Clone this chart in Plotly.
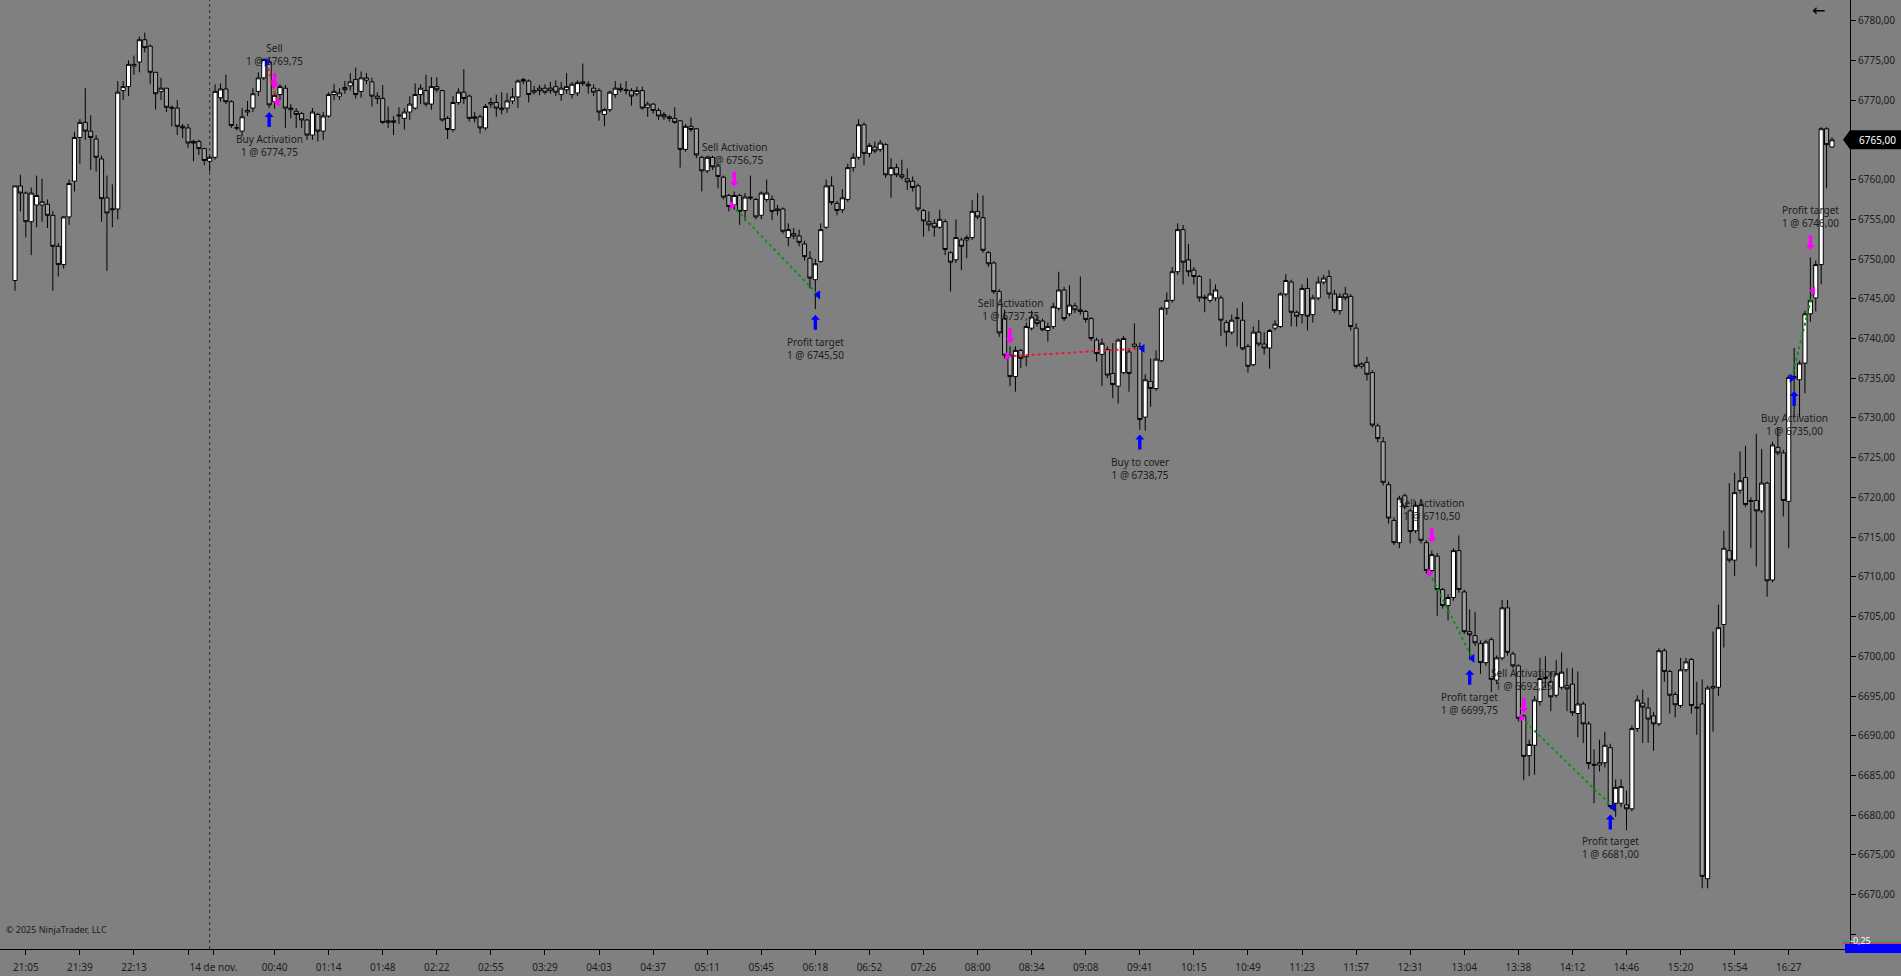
import plotly.graph_objects as go

# ---------------- data ----------------
opens = [
    6747.3, 6759.2, 6758.3, 6754.7, 6756.8, 6756.8, 6756.9, 6755.5, 6751.6, 6749.3,
    6755.3, 6759.8, 6765.3, 6767.2, 6766.1, 6765.1, 6762.6, 6757.7, 6756.2, 6756.3,
    6771.2, 6771.7, 6774.3, 6774.8, 6777.6, 6776.8, 6773.5, 6771.1, 6771.5, 6769.1,
    6769.0, 6766.7, 6766.5, 6764.8, 6764.8, 6763.9, 6762.3, 6762.8, 6770.3, 6771.4,
    6769.8, 6766.5, 6766.1, 6768.5, 6769.0, 6771.1, 6772.8, 6774.8, 6769.8, 6770.7,
    6771.5, 6768.8, 6768.6, 6768.3, 6767.5, 6765.6, 6768.2, 6766.1, 6768.0, 6770.7,
    6770.5, 6771.6, 6771.8, 6772.6, 6771.1, 6772.5, 6772.3, 6770.2, 6770.2, 6767.2,
    6767.2, 6768.0, 6767.7, 6768.5, 6769.0, 6770.7, 6771.2, 6769.5, 6771.7, 6771.2,
    6767.7, 6766.3, 6769.7, 6771.0, 6770.5, 6767.7, 6767.9, 6766.5, 6769.5, 6769.7,
    6768.8, 6769.0, 6769.9, 6770.4, 6772.6, 6772.4, 6771.0, 6771.2, 6771.5, 6771.2,
    6771.7, 6770.7, 6771.3, 6770.7, 6770.9, 6772.3, 6772.0, 6771.5, 6771.2, 6768.2,
    6768.8, 6770.7, 6771.5, 6771.3, 6771.2, 6770.8, 6771.2, 6769.1, 6769.5, 6768.7,
    6768.2, 6767.9, 6767.7, 6767.4, 6763.8, 6766.7, 6766.4, 6762.8, 6761.1, 6762.8,
    6761.7, 6760.3, 6758.0, 6756.8, 6758.0, 6756.1, 6757.8, 6757.5, 6755.5, 6757.5,
    6757.5, 6756.3, 6756.3, 6752.7, 6753.2, 6752.9, 6751.9, 6750.1, 6747.4, 6749.7,
    6754.0, 6759.2, 6757.0, 6756.2, 6757.5, 6761.5, 6762.8, 6766.9, 6763.3, 6764.1,
    6763.8, 6764.4, 6760.6, 6761.5, 6760.6, 6760.1, 6759.8, 6759.2, 6756.1, 6754.7,
    6754.5, 6754.0, 6754.7, 6750.8, 6749.9, 6752.4, 6752.4, 6752.7, 6756.0, 6755.2,
    6750.8, 6749.5, 6745.9, 6742.5, 6737.9, 6735.2, 6738.5, 6737.7, 6741.3, 6742.3,
    6742.2, 6741.0, 6741.5, 6743.8, 6746.1, 6743.1, 6744.1, 6743.6, 6743.4, 6742.5,
    6739.8, 6738.0, 6738.6, 6735.6, 6734.0, 6735.7, 6738.3, 6739.0, 6739.0, 6730.1,
    6734.6, 6733.7, 6737.2, 6743.8, 6744.8, 6748.4, 6753.7, 6749.9, 6748.6, 6747.8,
    6745.2, 6744.8, 6745.1, 6745.1, 6742.0, 6740.8, 6742.5, 6742.3, 6739.0, 6736.7,
    6740.8, 6739.3, 6738.8, 6741.3, 6741.5, 6745.6, 6747.1, 6743.3, 6743.0, 6746.3,
    6743.0, 6745.1, 6747.1, 6747.8, 6745.6, 6743.5, 6745.6, 6745.3, 6741.3, 6736.5,
    6737.0, 6735.7, 6729.0, 6727.0, 6721.6, 6717.1, 6714.3, 6720.2, 6718.3, 6715.8,
    6719.0, 6714.3, 6710.8, 6712.6, 6708.4, 6706.4, 6707.4, 6713.3, 6708.1, 6703.1,
    6702.6, 6701.6, 6699.2, 6702.1, 6697.0, 6699.8, 6706.1, 6700.3, 6698.8, 6692.5,
    6687.5, 6688.8, 6694.3, 6697.2, 6696.8, 6695.1, 6696.1, 6696.3, 6696.5, 6692.8,
    6694.0, 6691.5, 6686.4, 6686.3, 6686.6, 6688.5, 6681.5, 6681.5, 6681.3, 6680.8,
    6690.9, 6694.1, 6693.5, 6692.5, 6691.5, 6700.7, 6698.1, 6695.2, 6693.8, 6698.3,
    6699.6, 6693.6, 6694.0, 6672.0, 6696.0, 6696.1, 6704.0, 6713.3, 6712.1, 6720.9,
    6722.5, 6719.5, 6719.6, 6718.3, 6721.8, 6709.6, 6726.3, 6725.6, 6719.5, 6735.0,
    6734.8, 6736.9, 6743.1, 6745.1, 6749.3, 6766.4, 6764.1,
]
highs = [
    6759.2, 6760.6, 6758.5, 6759.0, 6760.5, 6760.1, 6757.5, 6756.0, 6752.0, 6755.4,
    6760.0, 6766.0, 6767.6, 6771.5, 6768.1, 6765.6, 6763.0, 6760.5, 6759.4, 6772.4,
    6772.4, 6775.0, 6775.6, 6778.0, 6778.5, 6777.0, 6773.5, 6772.8, 6771.5, 6769.3,
    6770.0, 6767.0, 6767.0, 6765.0, 6765.0, 6764.0, 6763.0, 6772.0, 6772.1, 6773.2,
    6770.0, 6767.0, 6769.0, 6769.9, 6771.5, 6773.5, 6775.2, 6775.3, 6771.0, 6772.0,
    6771.9, 6769.5, 6769.0, 6768.5, 6767.6, 6769.0, 6768.4, 6768.5, 6771.0, 6772.0,
    6771.5, 6772.4, 6773.4, 6774.1, 6773.6, 6773.4, 6772.8, 6771.0, 6771.9, 6769.2,
    6768.0, 6769.1, 6769.0, 6770.5, 6772.1, 6772.0, 6773.2, 6772.9, 6772.9, 6771.3,
    6768.0, 6770.5, 6771.5, 6773.9, 6770.7, 6768.5, 6768.2, 6769.5, 6770.3, 6770.7,
    6771.0, 6770.9, 6771.5, 6772.6, 6772.8, 6772.6, 6771.8, 6771.9, 6772.0, 6772.3,
    6772.5, 6772.3, 6773.4, 6772.3, 6772.5, 6774.6, 6772.4, 6772.0, 6771.5, 6769.0,
    6771.2, 6772.4, 6772.1, 6772.4, 6771.5, 6771.7, 6771.7, 6769.8, 6769.6, 6769.0,
    6768.5, 6768.1, 6769.1, 6767.5, 6767.0, 6767.8, 6766.5, 6763.0, 6763.0, 6763.0,
    6762.0, 6760.5, 6758.2, 6758.5, 6758.2, 6758.3, 6760.5, 6757.7, 6758.5, 6760.0,
    6758.0, 6756.8, 6756.5, 6754.5, 6753.9, 6753.7, 6752.3, 6751.0, 6750.0, 6754.5,
    6760.0, 6760.4, 6757.3, 6758.8, 6762.0, 6763.3, 6767.6, 6767.2, 6764.6, 6764.8,
    6765.0, 6764.6, 6762.7, 6762.0, 6762.5, 6761.4, 6760.4, 6759.5, 6756.3, 6756.0,
    6755.0, 6756.2, 6755.0, 6751.0, 6755.0, 6752.7, 6753.0, 6757.4, 6758.3, 6758.0,
    6751.0, 6749.7, 6746.2, 6743.6, 6739.0, 6739.0, 6738.7, 6742.0, 6743.5, 6743.0,
    6742.5, 6742.0, 6744.5, 6748.4, 6746.5, 6746.7, 6744.5, 6747.8, 6743.6, 6742.7,
    6740.1, 6740.0, 6739.0, 6739.4, 6740.0, 6740.3, 6738.8, 6741.9, 6739.5, 6735.5,
    6737.5, 6738.5, 6744.0, 6745.8, 6749.0, 6754.5, 6754.3, 6751.9, 6749.0, 6748.0,
    6745.5, 6747.5, 6746.8, 6745.4, 6742.3, 6743.0, 6743.8, 6744.6, 6739.3, 6741.5,
    6742.3, 6740.8, 6741.2, 6742.3, 6745.8, 6748.1, 6747.4, 6743.5, 6746.8, 6747.6,
    6745.5, 6747.8, 6748.0, 6748.6, 6746.1, 6745.7, 6746.5, 6745.6, 6741.9, 6737.0,
    6737.7, 6736.0, 6729.3, 6727.6, 6722.0, 6717.5, 6720.2, 6720.5, 6718.6, 6719.5,
    6719.8, 6714.6, 6713.3, 6713.0, 6708.6, 6707.8, 6713.6, 6715.2, 6708.4, 6705.9,
    6705.6, 6702.0, 6702.1, 6702.4, 6700.1, 6707.1, 6707.1, 6700.6, 6699.0, 6692.7,
    6689.5, 6695.0, 6699.8, 6700.0, 6698.1, 6699.5, 6700.5, 6698.5, 6698.5, 6698.1,
    6694.3, 6691.8, 6688.3, 6689.5, 6690.5, 6689.0, 6684.5, 6684.5, 6683.1, 6691.3,
    6695.1, 6695.8, 6694.8, 6693.0, 6701.0, 6701.0, 6698.3, 6695.5, 6699.8, 6699.8,
    6699.8, 6696.8, 6697.1, 6696.3, 6703.1, 6706.5, 6715.8, 6721.8, 6723.1, 6725.8,
    6726.5, 6720.0, 6728.0, 6726.1, 6722.0, 6727.0, 6728.8, 6726.0, 6735.4, 6738.8,
    6737.2, 6743.5, 6750.2, 6749.8, 6766.6, 6766.6, 6765.3,
]
lows = [
    6746.0, 6756.0, 6752.7, 6750.5, 6754.0, 6754.7, 6753.9, 6746.0, 6747.8, 6748.8,
    6754.3, 6758.5, 6762.0, 6765.0, 6761.2, 6761.0, 6754.7, 6748.5, 6754.0, 6755.0,
    6770.0, 6770.5, 6773.2, 6773.5, 6776.0, 6772.0, 6768.8, 6770.0, 6768.5, 6766.7,
    6765.6, 6765.2, 6764.0, 6762.3, 6763.1, 6761.8, 6761.0, 6762.5, 6769.8, 6769.5,
    6766.5, 6766.2, 6765.5, 6768.0, 6768.5, 6770.5, 6772.5, 6769.0, 6768.9, 6770.0,
    6766.5, 6767.7, 6766.5, 6766.5, 6765.0, 6765.0, 6764.8, 6765.0, 6767.8, 6770.0,
    6770.0, 6770.8, 6771.2, 6770.2, 6770.3, 6772.0, 6769.2, 6769.5, 6767.0, 6766.5,
    6765.6, 6767.0, 6766.3, 6767.5, 6768.8, 6769.5, 6769.2, 6768.8, 6771.0, 6767.3,
    6765.1, 6766.0, 6769.4, 6769.5, 6767.3, 6767.2, 6765.8, 6766.2, 6769.0, 6767.9,
    6768.2, 6768.4, 6769.5, 6769.0, 6772.0, 6769.7, 6770.7, 6770.6, 6770.7, 6770.8,
    6770.5, 6769.9, 6770.8, 6770.2, 6770.5, 6771.8, 6770.8, 6770.5, 6767.4, 6766.7,
    6768.5, 6770.3, 6771.0, 6770.7, 6769.3, 6770.5, 6768.8, 6767.9, 6768.3, 6767.5,
    6767.5, 6767.3, 6767.0, 6761.5, 6763.5, 6766.0, 6762.7, 6758.5, 6760.8, 6761.2,
    6758.9, 6757.5, 6756.0, 6756.2, 6754.3, 6754.8, 6757.4, 6755.0, 6755.0, 6757.2,
    6754.9, 6755.5, 6753.2, 6751.6, 6752.5, 6751.6, 6749.8, 6746.3, 6743.7, 6749.5,
    6753.8, 6756.8, 6755.5, 6755.8, 6757.2, 6761.0, 6762.5, 6761.8, 6762.8, 6763.3,
    6763.5, 6760.2, 6757.7, 6760.3, 6760.0, 6758.7, 6758.5, 6756.0, 6752.8, 6753.5,
    6752.8, 6753.8, 6750.5, 6745.9, 6749.5, 6748.6, 6750.1, 6752.4, 6755.0, 6750.8,
    6749.0, 6745.6, 6740.2, 6737.5, 6734.0, 6733.3, 6736.3, 6736.5, 6741.0, 6741.5,
    6740.9, 6739.6, 6741.2, 6743.5, 6742.2, 6742.8, 6743.2, 6743.0, 6742.0, 6739.7,
    6737.1, 6734.0, 6735.0, 6732.5, 6731.8, 6735.5, 6733.3, 6738.8, 6728.5, 6728.4,
    6731.4, 6733.4, 6737.0, 6743.0, 6744.5, 6748.0, 6746.8, 6747.8, 6746.8, 6744.6,
    6743.3, 6744.5, 6744.7, 6740.3, 6739.0, 6740.5, 6739.0, 6738.5, 6735.7, 6736.5,
    6739.0, 6738.0, 6736.2, 6741.0, 6741.3, 6745.3, 6741.5, 6741.5, 6741.9, 6741.0,
    6742.0, 6744.8, 6746.8, 6745.0, 6743.2, 6743.0, 6744.8, 6741.0, 6736.2, 6736.2,
    6734.7, 6728.8, 6726.9, 6721.5, 6716.7, 6714.0, 6713.6, 6718.5, 6714.2, 6715.5,
    6714.2, 6710.4, 6710.5, 6705.1, 6706.0, 6704.5, 6707.0, 6708.0, 6702.8, 6699.6,
    6701.3, 6697.8, 6698.8, 6695.5, 6696.5, 6699.5, 6700.1, 6698.5, 6691.8, 6684.4,
    6684.9, 6685.1, 6693.8, 6696.0, 6693.1, 6694.8, 6695.8, 6693.1, 6692.5, 6689.8,
    6689.1, 6685.8, 6681.5, 6685.5, 6686.0, 6680.8, 6679.8, 6681.0, 6678.1, 6680.5,
    6690.5, 6689.1, 6689.1, 6688.1, 6691.2, 6696.8, 6692.8, 6692.3, 6693.5, 6698.0,
    6692.8, 6690.1, 6670.8, 6670.8, 6690.5, 6695.0, 6701.1, 6711.8, 6710.1, 6720.5,
    6718.8, 6713.6, 6711.3, 6718.0, 6707.5, 6709.3, 6725.3, 6717.6, 6713.6, 6730.1,
    6730.1, 6733.1, 6742.1, 6743.4, 6746.8, 6758.9, 6764.0,
]
closes = [
    6759.2, 6758.3, 6754.7, 6758.3, 6758.0, 6757.2, 6755.5, 6751.6, 6749.3, 6755.3,
    6759.5, 6765.3, 6767.2, 6766.1, 6765.3, 6762.8, 6757.6, 6755.8, 6756.3, 6771.0,
    6771.7, 6774.5, 6774.5, 6777.6, 6776.6, 6773.5, 6770.8, 6771.5, 6769.1, 6769.0,
    6766.7, 6766.5, 6764.6, 6764.6, 6763.9, 6762.4, 6762.8, 6771.1, 6771.4, 6769.8,
    6766.8, 6766.5, 6767.9, 6768.7, 6770.8, 6772.8, 6775.1, 6769.4, 6770.6, 6771.7,
    6769.0, 6769.0, 6768.2, 6767.5, 6765.6, 6768.5, 6766.1, 6768.0, 6770.7, 6771.1,
    6770.9, 6771.3, 6772.3, 6770.7, 6772.8, 6772.8, 6770.5, 6770.5, 6767.2, 6767.4,
    6767.4, 6768.1, 6768.5, 6769.5, 6770.7, 6771.5, 6769.5, 6771.7, 6771.3, 6767.5,
    6766.3, 6769.7, 6771.0, 6770.2, 6767.7, 6767.9, 6766.5, 6769.2, 6769.7, 6769.0,
    6769.0, 6769.9, 6770.4, 6772.4, 6772.4, 6770.7, 6771.2, 6771.5, 6771.0, 6771.5,
    6771.0, 6771.5, 6771.7, 6772.0, 6772.2, 6772.1, 6771.8, 6771.0, 6768.5, 6768.8,
    6771.0, 6771.5, 6771.3, 6771.2, 6770.5, 6771.2, 6769.0, 6769.5, 6768.7, 6768.0,
    6767.9, 6767.7, 6767.2, 6763.8, 6766.7, 6766.3, 6763.1, 6761.1, 6762.8, 6761.6,
    6760.4, 6757.8, 6756.6, 6758.0, 6756.0, 6757.8, 6757.7, 6755.3, 6758.3, 6758.3,
    6756.0, 6756.1, 6753.5, 6753.7, 6752.9, 6752.1, 6750.3, 6747.6, 6749.4, 6753.7,
    6759.2, 6757.1, 6756.1, 6757.7, 6761.5, 6762.8, 6766.9, 6763.3, 6764.3, 6763.6,
    6764.6, 6760.6, 6761.5, 6760.6, 6760.3, 6759.7, 6759.0, 6756.3, 6754.8, 6754.3,
    6754.0, 6755.0, 6751.2, 6749.6, 6752.7, 6751.6, 6752.7, 6756.0, 6755.3, 6751.1,
    6749.4, 6745.9, 6740.7, 6737.9, 6735.2, 6738.5, 6737.5, 6741.5, 6742.7, 6741.9,
    6741.1, 6741.5, 6744.0, 6746.1, 6742.5, 6744.2, 6743.6, 6743.4, 6742.4, 6740.0,
    6738.1, 6739.4, 6735.4, 6734.2, 6739.8, 6740.0, 6735.6, 6739.3, 6729.8, 6734.8,
    6733.7, 6737.4, 6743.8, 6744.8, 6748.4, 6753.7, 6749.6, 6748.4, 6747.8, 6745.1,
    6745.1, 6745.6, 6746.1, 6742.3, 6740.8, 6742.3, 6742.6, 6738.7, 6736.5, 6740.8,
    6739.3, 6738.8, 6741.0, 6741.8, 6745.6, 6747.3, 6743.3, 6742.8, 6746.3, 6742.8,
    6745.1, 6747.1, 6747.6, 6745.6, 6743.5, 6745.3, 6745.1, 6741.5, 6736.5, 6736.8,
    6735.5, 6729.1, 6727.4, 6721.9, 6717.4, 6714.3, 6719.9, 6718.8, 6715.7, 6719.0,
    6714.6, 6710.8, 6712.8, 6708.4, 6706.4, 6707.4, 6713.3, 6708.4, 6703.1, 6702.7,
    6701.7, 6699.2, 6701.8, 6697.1, 6699.8, 6706.1, 6700.5, 6698.8, 6692.2, 6687.4,
    6688.9, 6694.5, 6697.2, 6697.3, 6694.9, 6697.8, 6698.0, 6695.9, 6692.9, 6694.0,
    6691.5, 6686.5, 6686.3, 6686.6, 6688.8, 6681.1, 6683.5, 6683.6, 6680.8, 6690.9,
    6694.5, 6693.6, 6692.1, 6691.5, 6700.7, 6698.1, 6695.1, 6693.9, 6698.3, 6699.3,
    6693.8, 6693.5, 6672.3, 6696.0, 6696.2, 6703.6, 6713.6, 6712.1, 6720.6, 6722.1,
    6719.1, 6719.6, 6718.3, 6721.8, 6709.5, 6726.6, 6725.6, 6719.6, 6735.1, 6735.2,
    6736.9, 6743.1, 6744.8, 6749.3, 6766.4, 6764.4, 6765.0,
]

# time axis labels (bar index where each label sits)
time_tick_bars = [2, 12, 22, 32, 36.7, 48, 58, 68, 78, 88, 98, 108, 118, 128, 138,
                  148, 158, 168, 178, 188, 198, 208, 218, 228, 238, 248, 258, 268,
                  278, 288, 298, 308, 318, 328]
time_tick_labels = ["21:05", "21:39", "22:13", "", "14 de nov.", "00:40", "01:14",
                    "01:48", "02:22", "02:55", "03:29", "04:03", "04:37", "05:11",
                    "05:45", "06:18", "06:52", "07:26", "08:00", "08:34", "09:08",
                    "09:41", "10:15", "10:49", "11:23", "11:57", "12:31", "13:04",
                    "13:38", "14:12", "14:46", "15:20", "15:54", "16:27"]
session_break_bar = 36

price_ticks = [6665, 6670, 6675, 6680, 6685, 6690, 6695, 6700, 6705, 6710, 6715,
               6720, 6725, 6730, 6735, 6740, 6745, 6750, 6755, 6760, 6765, 6770,
               6775, 6780]
price_tick_labels = ["", "6670,00", "6675,00", "6680,00", "6685,00", "6690,00",
                     "6695,00", "6700,00", "6705,00", "6710,00", "6715,00",
                     "6720,00", "6725,00", "6730,00", "6735,00", "6740,00",
                     "6745,00", "6750,00", "6755,00", "6760,00", "", "6770,00",
                     "6775,00", "6780,00"]

# strategy trades
entry_bars = [47, 133, 184, 262, 279, 329]
entry_prices = [6774.75, 6756.75, 6737.75, 6710.50, 6692.25, 6735.00]
entry_sides = ["buy", "sell", "sell", "sell", "sell", "buy"]
entry_names = ["Buy Activation", "Sell Activation", "Sell Activation",
               "Sell Activation", "Sell Activation", "Buy Activation"]
entry_arrow_prices = [6768.5, 6759.1, 6739.4, 6714.3, 6692.9, 6733.4]

exit_bars = [48, 148, 208, 269, 295, 332]
exit_prices = [6769.75, 6745.50, 6738.75, 6699.75, 6681.00, 6746.00]
exit_names = ["Sell", "Profit target", "Buy to cover", "Profit target",
              "Profit target", "Profit target"]
exit_arrow_prices = [6771.5, 6743.0, 6727.9, 6698.3, 6680.1, 6751.1]

indicator_value = "-0,25"

# ---------------- layout constants ----------------
FIG_W, FIG_H = 1901, 976
PLOT_W, PLOT_H = 1850, 949
Y_MIN, Y_MAX = 6663.16, 6782.6
X_MIN, X_MAX = -2.774, 339.33
BG = "#808080"
BLUE = "#0000ff"
MAGENTA = "#ff00ff"
TEXT = "#1c1c1c"
FONT = "Noto Sans"


def fmt(p):
    return f"{p:.2f}".replace(".", ",")


def py(p):
    return (p - Y_MIN) / (Y_MAX - Y_MIN)


fig = go.Figure()

fig.add_trace(go.Candlestick(
    x=list(range(len(opens))),
    open=opens,
    high=[max(h, o, c) for h, o, c in zip(highs, opens, closes)],
    low=[min(l, o, c) for l, o, c in zip(lows, opens, closes)],
    close=closes,
    increasing=dict(line=dict(color="black", width=1), fillcolor="white"),
    decreasing=dict(line=dict(color="black", width=1), fillcolor="#9e9e9e"),
    whiskerwidth=0,
    hoverinfo="skip",
    showlegend=False,
))

# trade connection lines and execution triangles
for i in range(len(entry_bars)):
    side = 1 if entry_sides[i] == "buy" else -1
    pnl = (exit_prices[i] - entry_prices[i]) * side
    lc = "#11901a" if pnl > 0 else "#f0143c"
    xe = entry_bars[i] - 0.45
    xx = exit_bars[i] + 0.5
    fig.add_trace(go.Scatter(
        x=[xe, xx], y=[entry_prices[i], exit_prices[i]], mode="lines",
        line=dict(color=lc, width=2, dash="dot"), hoverinfo="skip", showlegend=False))
    ec = BLUE if entry_sides[i] == "buy" else MAGENTA
    xc = MAGENTA if entry_sides[i] == "buy" else BLUE
    fig.add_trace(go.Scatter(
        x=[xe], y=[entry_prices[i]], mode="markers",
        marker=dict(symbol="triangle-right", size=8, color=ec, line=dict(width=0)),
        hoverinfo="skip", showlegend=False))
    fig.add_trace(go.Scatter(
        x=[xx], y=[exit_prices[i]], mode="markers",
        marker=dict(symbol="triangle-left", size=8, color=xc, line=dict(width=0)),
        hoverinfo="skip", showlegend=False))

ARROW_LEN = 15
UP_ARROW = "M 0,0 L 4.5,-5 L 1.7,-5 L 1.7,-15 L -1.7,-15 L -1.7,-5 L -4.5,-5 Z"
DOWN_ARROW = "M 0,0 L 4.5,5 L 1.7,5 L 1.7,15 L -1.7,15 L -1.7,5 L -4.5,5 Z"


def add_signal(bar, tip_price, side, name, price):
    color = BLUE if side == "buy" else MAGENTA
    fig.add_shape(type="path", xref="x", yref="y",
                  xsizemode="pixel", ysizemode="pixel",
                  xanchor=bar, yanchor=tip_price,
                  path=UP_ARROW if side == "buy" else DOWN_ARROW,
                  fillcolor=color, line=dict(width=0), layer="above")
    fig.add_annotation(x=bar, y=tip_price, text=f"{name}<br>1 @ {fmt(price)}",
                       showarrow=False, font=dict(family=FONT, size=10, color=TEXT),
                       yanchor="top" if side == "buy" else "bottom",
                       yshift=-(ARROW_LEN + 3) if side == "buy" else (ARROW_LEN + 3))


for i in range(len(entry_bars)):
    add_signal(entry_bars[i], entry_arrow_prices[i], entry_sides[i],
               entry_names[i], entry_prices[i])
    xs = "sell" if entry_sides[i] == "buy" else "buy"
    add_signal(exit_bars[i], exit_arrow_prices[i], xs, exit_names[i], exit_prices[i])

# session break
fig.add_shape(type="line", x0=session_break_bar, x1=session_break_bar, y0=0, y1=1,
              xref="x", yref="paper", line=dict(color="#2a2a2a", width=1, dash="dot"),
              layer="below")

# current price marker
last = closes[-1]
yc = py(last)
hh = 9.5 / PLOT_H
x_tip = 1843 / PLOT_W
x_end = FIG_W / PLOT_W
fig.add_shape(type="path", xref="paper", yref="paper",
              path=f"M {x_tip},{yc} L 1,{yc + hh} L {x_end},{yc + hh} L {x_end},{yc - hh} L 1,{yc - hh} Z",
              fillcolor="black", line=dict(width=0), layer="above")
fig.add_annotation(x=1, y=yc, xref="paper", yref="paper", xanchor="left", yanchor="middle",
                   xshift=7, text=fmt(last), showarrow=False,
                   font=dict(family=FONT, size=10, color="white"))

# bottom-right indicator box
fig.add_shape(type="line", xref="paper", yref="paper", x0=1843 / PLOT_W, x1=x_end,
              y0=(PLOT_H - 940.5) / PLOT_H, y1=(PLOT_H - 940.5) / PLOT_H,
              line=dict(color="#2aa198", width=1), layer="above")
fig.add_shape(type="line", xref="paper", yref="paper", x0=1843 / PLOT_W, x1=x_end,
              y0=(PLOT_H - 943) / PLOT_H, y1=(PLOT_H - 943) / PLOT_H,
              line=dict(color="#e02020", width=1), layer="above")
fig.add_shape(type="rect", xref="paper", yref="paper", x0=1845 / PLOT_W, x1=x_end,
              y0=(PLOT_H - 953) / PLOT_H, y1=(PLOT_H - 944) / PLOT_H,
              fillcolor="#0000ff", line=dict(width=0), layer="above")
fig.add_annotation(x=1873 / PLOT_W, y=(PLOT_H - 949) / PLOT_H, xref="paper", yref="paper",
                   text=indicator_value, showarrow=False,
                   font=dict(family=FONT, size=9, color="white"))

# back arrow glyph at top right and copyright
fig.add_annotation(x=1827 / PLOT_W, y=(PLOT_H - 11) / PLOT_H, xref="paper", yref="paper",
                   text="←", showarrow=False, yanchor="middle",
                   font=dict(family="DejaVu Sans", size=16, color="black"))
fig.add_annotation(x=4 / PLOT_W, y=(PLOT_H - 929) / PLOT_H, xref="paper", yref="paper",
                   text="© 2025 NinjaTrader, LLC", showarrow=False,
                   xanchor="left", yanchor="middle",
                   font=dict(family=FONT, size=9, color=TEXT))

fig.update_layout(
    width=FIG_W, height=FIG_H,
    margin=dict(l=0, r=FIG_W - PLOT_W, t=0, b=FIG_H - PLOT_H, pad=0),
    paper_bgcolor=BG, plot_bgcolor=BG,
    showlegend=False, hovermode=False,
    boxgap=0.15, boxgroupgap=0.1,
    font=dict(family=FONT, size=10, color=TEXT),
    xaxis=dict(
        range=[X_MIN, X_MAX], rangeslider=dict(visible=False),
        tickmode="array", tickvals=time_tick_bars, ticktext=time_tick_labels,
        ticks="outside", ticklen=5, tickcolor="black", tickwidth=1,
        ticklabelstandoff=4,
        showline=True, linecolor="black", linewidth=1, showgrid=False, zeroline=False,
        tickfont=dict(family=FONT, size=10, color=TEXT),
    ),
    yaxis=dict(
        range=[Y_MIN, Y_MAX], side="right",
        tickmode="array", tickvals=price_ticks, ticktext=price_tick_labels,
        ticks="outside", ticklen=5, tickcolor="black", tickwidth=1,
        showline=True, linecolor="black", linewidth=1, showgrid=False, zeroline=False,
        tickfont=dict(family=FONT, size=10, color=TEXT),
    ),
)

fig.write_html(
    "out.html",
    config={"displayModeBar": False},
    post_script="document.body.style.margin='0px';document.body.style.overflow='hidden';",
)
